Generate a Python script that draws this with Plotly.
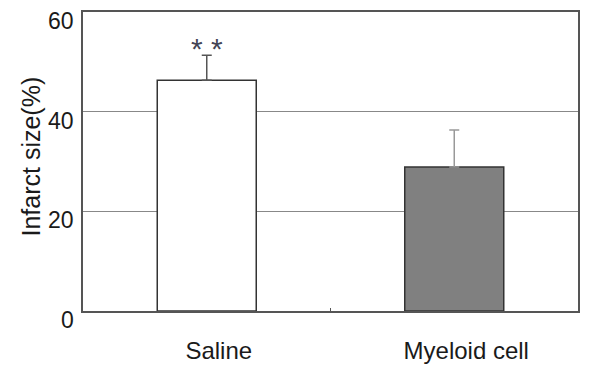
import plotly.graph_objects as go

categories = ["Saline", "Myeloid cell"]
means = [46.3, 28.9]
errors = [5.0, 7.4]
fills = ["#ffffff", "#808080"]
err_colors = ["#555555", "#999999"]
y_ticks = [0, 20, 40, 60]
y_tick_labels = ["0", "20", "40", "60"]
y_title = "Infarct size(%)"
signif_label = "* *"

FONT = "Liberation Sans, Arial"

fig = go.Figure()
for cat, m, e, fc, ec in zip(categories, means, errors, fills, err_colors):
    fig.add_trace(go.Bar(
        x=[cat], y=[m], width=0.4,
        marker=dict(color=fc, line=dict(color="#333333", width=1.5)),
        error_y=dict(type="data", array=[e], arrayminus=[0], symmetric=False,
                     color=ec, thickness=1.5, width=5),
        showlegend=False,
    ))

fig.add_annotation(x=categories[0], y=means[0] + errors[0] + 1.3, text=signif_label,
                   showarrow=False, yanchor="middle",
                   font=dict(family=FONT, size=30, color="#445"))

for v, lab in zip(y_ticks, y_tick_labels):
    fig.add_annotation(xref="paper", x=0, y=v, text=lab, showarrow=False,
                       xanchor="right", yanchor="middle", xshift=-7, yshift=-9,
                       font=dict(family=FONT, size=23, color="#1a1a1a"))

fig.add_annotation(xref="paper", yref="paper", x=0, y=0.5, text=y_title,
                   textangle=-90, showarrow=False, xanchor="center", yanchor="middle",
                   xshift=-53, yshift=5,
                   font=dict(family=FONT, size=25, color="#1a1a1a"))

fig.update_layout(
    width=581, height=363,
    margin=dict(l=75, r=11, t=4, b=60),
    plot_bgcolor="white", paper_bgcolor="white",
    font=dict(family=FONT, color="#1a1a1a"),
)
fig.update_xaxes(
    range=[-0.5, 1.5], showline=True, linecolor="#555555", linewidth=1.5, mirror=True,
    ticks="inside", tickson="boundaries", ticklen=3, tickcolor="#555555",
    tickfont=dict(size=24), ticklabelstandoff=17, ticklabelshift=12,
    showgrid=False, automargin=False,
)
fig.update_yaxes(
    range=[0, 60], tickvals=y_ticks, showticklabels=False,
    showline=True, linecolor="#555555", linewidth=1.5,
    mirror=True, showgrid=True, gridcolor="#888888", gridwidth=1,
    zeroline=False, automargin=False,
)
fig.write_html("out.html")
